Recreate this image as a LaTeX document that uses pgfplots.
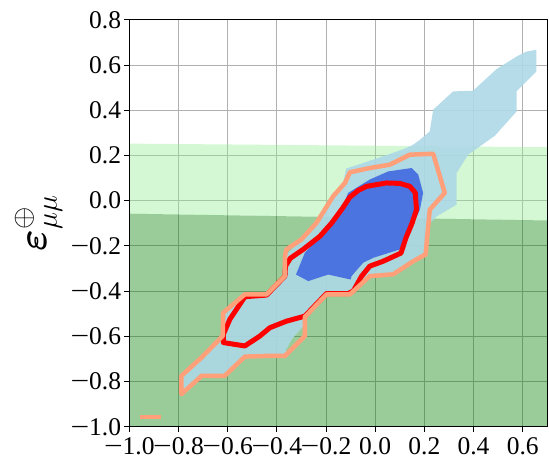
\RequirePackage{fix-cm}
\documentclass[border=0pt]{standalone}
\usepackage{amsmath}
\usepackage{pgfplots}
\pgfplotsset{compat=1.18}
\usepackage{fontspec}
\setmainfont{Liberation Serif}
\newcommand\mn{\scalebox{1.3}[1]{−}}
\definecolor{lsalmon}{HTML}{FFA07A}
\definecolor{lblue}{HTML}{ADD8E6}
\definecolor{rblue}{HTML}{4169E1}
\definecolor{lgreen}{HTML}{90EE90}
\definecolor{mgreen}{HTML}{008000}
\definecolor{gridc}{HTML}{B0B0B0}
\begin{document}
\begin{tikzpicture}
\path[use as bounding box] (-129.3pt,-32.3pt) rectangle (419.7pt,426.7pt);
\begin{axis}[
  at={(0pt,0pt)}, anchor=south west,
  scale only axis, width=418pt, height=407pt,
  xmin=-1, xmax=0.7, ymin=-1, ymax=0.8,
  clip mode=individual,
  xtick={-1,-0.8,-0.6,-0.4,-0.2,0,0.2,0.4,0.6},
  xticklabels={\mn1.0,\mn0.8,\mn0.6,\mn0.4,\mn0.2,0.0,0.2,0.4,0.6},
  ytick={-1,-0.8,-0.6,-0.4,-0.2,0,0.2,0.4,0.6,0.8},
  yticklabels={\mn1.0,\mn0.8,\mn0.6,\mn0.4,\mn0.2,0.0,0.2,0.4,0.6,0.8},
  xtick pos=bottom, ytick pos=left,
  tick align=outside, major tick length=5pt,
  tick style={black, line width=0.8pt},
  grid=major, major grid style={gridc, line width=0.8pt},
  axis line style={black, line width=0.8pt},
  ticklabel style={font=\fontsize{25.5}{30}\selectfont},
  xticklabel style={inner sep=6pt},
  yticklabel style={inner sep=3pt},
  ylabel={$\boldsymbol{\varepsilon}^{\oplus}_{\mu\mu}$},
  ylabel style={at={(axis description cs:-0.217,0.5)}, anchor=center, inner sep=0pt, font=\fontsize{41}{49}\selectfont},
]
% bands
\addplot[draw=none, fill=lgreen, fill opacity=0.4] coordinates {(-1,0.252) (0.7,0.236) (0.7,-0.088) (-1,-0.058)} --cycle;
\addplot[draw=none, fill=mgreen, fill opacity=0.4] coordinates {(-1,-0.058) (0.7,-0.088) (0.7,-1.0) (-1,-1.0)} --cycle;
% light blue region
\addplot[draw=none, fill=lblue, fill opacity=0.9] coordinates {
(-0.795,-0.85) (-0.795,-0.775) (-0.706,-0.694) (-0.620,-0.599) (-0.618,-0.496)
(-0.530,-0.415) (-0.442,-0.415) (-0.367,-0.334) (-0.367,-0.246) (-0.300,-0.172)
(-0.239,-0.099) (-0.205,-0.040) (-0.171,0.019) (-0.130,0.080) (-0.118,0.142)
(-0.049,0.166) (0.073,0.211) (0.128,0.233) (0.154,0.247) (0.182,0.269) (0.222,0.306)
(0.236,0.402) (0.317,0.483) (0.398,0.486) (0.493,0.581) (0.575,0.637)
(0.615,0.659) (0.656,0.667) (0.656,0.571) (0.575,0.483) (0.575,0.394)
(0.487,0.287) (0.378,0.203) (0.331,0.122) (0.331,-0.018) (0.25,-0.07)
(0.222,-0.10) (0.205,-0.238) (0.155,-0.268) (0.073,-0.326) (-0.022,-0.334)
(-0.103,-0.415) (-0.198,-0.415) (-0.286,-0.515) (-0.284,-0.545) (-0.340,-0.614)
(-0.362,-0.66) (-0.367,-0.687) (-0.442,-0.687) (-0.530,-0.690) (-0.612,-0.775)
(-0.706,-0.775)} --cycle;
% royal blue region
\addplot[draw=none, fill=rblue, fill opacity=0.9] coordinates {
(-0.110,0.034) (-0.022,0.093) (0.053,0.129) (0.148,0.144) (0.175,0.115)
(0.195,0.034) (0.182,-0.040) (0.148,-0.121) (0.100,-0.216) (-0.008,-0.253)
(-0.049,-0.275) (-0.096,-0.334) (-0.100,-0.349) (-0.191,-0.327) (-0.272,-0.356)
(-0.322,-0.327) (-0.286,-0.231) (-0.225,-0.158) (-0.177,-0.099) (-0.137,-0.040)} --cycle;
% red contour
\addplot[red, line width=5pt, line join=round] coordinates {
(-0.617,-0.628) (-0.617,-0.590) (-0.591,-0.525) (-0.530,-0.425) (-0.442,-0.418)
(-0.367,-0.334) (-0.365,-0.290) (-0.345,-0.255) (-0.293,-0.216) (-0.225,-0.158)
(-0.177,-0.099) (-0.137,-0.040) (-0.103,0.015) (-0.069,0.045) (-0.035,0.063)
(0.046,0.078) (0.100,0.076) (0.141,0.063) (0.163,0.035) (0.168,-0.040)
(0.150,-0.100) (0.125,-0.165) (0.105,-0.232) (0.033,-0.268) (-0.022,-0.290)
(-0.055,-0.334) (-0.089,-0.400) (-0.110,-0.411) (-0.198,-0.411) (-0.286,-0.511)
(-0.360,-0.533) (-0.428,-0.562) (-0.469,-0.599) (-0.530,-0.643)} --cycle;
% salmon contour
\addplot[lsalmon, line width=4.5pt, line join=round] coordinates {
(0.236,0.207) (0.141,0.203) (0.060,0.159) (-0.022,0.144) (-0.103,0.125)
(-0.123,0.078) (-0.171,0.019) (-0.205,-0.040) (-0.239,-0.099) (-0.300,-0.172)
(-0.361,-0.216) (-0.367,-0.246) (-0.367,-0.334) (-0.442,-0.415) (-0.530,-0.415)
(-0.618,-0.496) (-0.620,-0.599) (-0.706,-0.694) (-0.788,-0.775) (-0.788,-0.856)
(-0.706,-0.775) (-0.612,-0.775) (-0.530,-0.690) (-0.442,-0.687) (-0.367,-0.687)
(-0.286,-0.599) (-0.286,-0.515) (-0.198,-0.415) (-0.103,-0.415) (-0.022,-0.334)
(0.073,-0.326) (0.155,-0.268) (0.205,-0.238) (0.222,-0.040) (0.283,0.034)} --cycle;
\addplot[lsalmon, line width=4.2pt] coordinates {(-0.957,-0.956) (-0.870,-0.956)};
\draw[black, line width=0.8pt] (rel axis cs:0,0) rectangle (rel axis cs:1,1);
\end{axis}
\end{tikzpicture}
\end{document}
